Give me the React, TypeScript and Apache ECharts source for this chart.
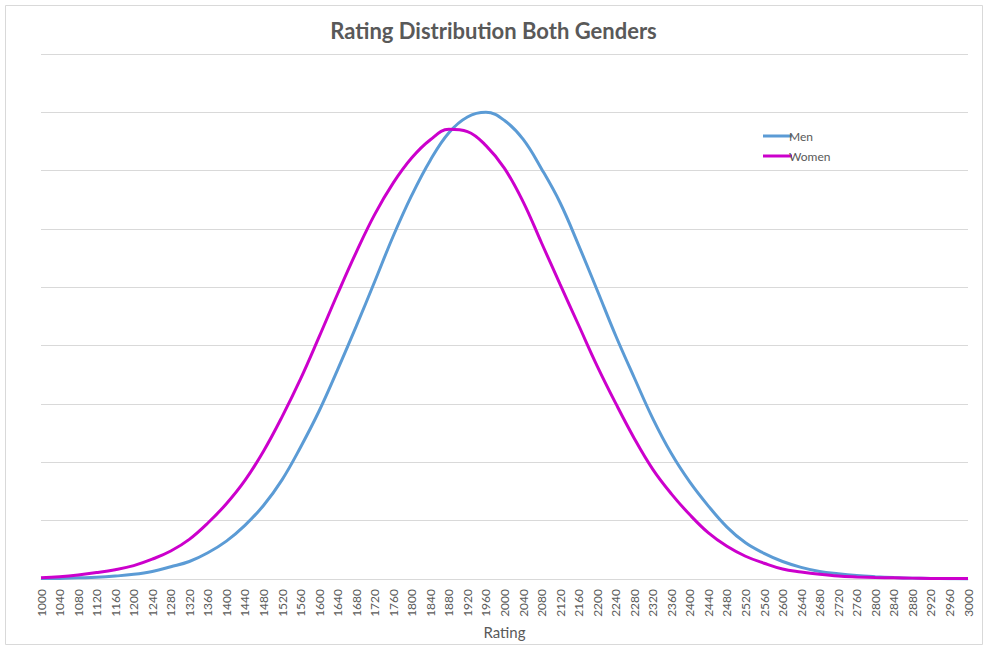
import { useEffect, useRef } from 'react';
import * as echarts from 'echarts';

const ratings = [
  '1000', '1040', '1080', '1120', '1160', '1200', '1240', '1280', '1320', '1360',
  '1400', '1440', '1480', '1520', '1560', '1600', '1640', '1680', '1720', '1760',
  '1800', '1840', '1880', '1920', '1960', '2000', '2040', '2080', '2120', '2160',
  '2200', '2240', '2280', '2320', '2360', '2400', '2440', '2480', '2520', '2560',
  '2600', '2640', '2680', '2720', '2760', '2800', '2840', '2880', '2920', '2960',
  '3000',
];

// in gridline units (the y axis has no labels)
const men = [
  0.01, 0.01, 0.02, 0.03, 0.05, 0.08, 0.13, 0.21, 0.3, 0.45,
  0.65, 0.92, 1.26, 1.7, 2.26, 2.88, 3.59, 4.33, 5.1, 5.88,
  6.58, 7.18, 7.65, 7.92, 8.0, 7.86, 7.54, 7.03, 6.45, 5.72,
  4.95, 4.17, 3.45, 2.75, 2.15, 1.66, 1.25, 0.89, 0.62, 0.44,
  0.3, 0.2, 0.13, 0.09, 0.06, 0.04, 0.025, 0.015, 0.01, 0.005,
  0.0,
];

const women = [
  0.02, 0.04, 0.07, 0.11, 0.16, 0.23, 0.34, 0.48, 0.68, 0.96,
  1.29, 1.69, 2.19, 2.78, 3.43, 4.15, 4.89, 5.6, 6.25, 6.79,
  7.22, 7.53, 7.71, 7.67, 7.43, 7.04, 6.47, 5.76, 5.05, 4.35,
  3.65, 3.01, 2.41, 1.88, 1.46, 1.1, 0.79, 0.56, 0.39, 0.27,
  0.17, 0.12, 0.08, 0.05, 0.035, 0.025, 0.02, 0.015, 0.01, 0.01,
  0.01,
];

const textColor = '#595959';
const gridColor = '#d9d9d9';

export default function App() {
  const chartRef = useRef<HTMLDivElement>(null);

  useEffect(() => {
    if (!chartRef.current) return;
    const chart = echarts.init(chartRef.current, undefined, { renderer: 'svg' });

    chart.setOption({
      animation: false,
      backgroundColor: '#ffffff',
      title: {
        text: 'Rating Distribution Both Genders',
        left: 'center',
        top: 14,
        textStyle: { color: textColor, fontSize: 22, fontWeight: 'bold', fontFamily: 'Lato' },
      },
      legend: {
        data: ['Men', 'Women'],
        orient: 'vertical',
        left: 758,
        top: 125,
        icon: 'rect',
        itemWidth: 29,
        itemHeight: 3,
        itemGap: 8,
        textStyle: { color: textColor, fontSize: 12, fontFamily: 'Lato', padding: [0, 0, 0, -8] },
      },
      graphic: [
        {
          type: 'rect',
          shape: { x: 5.5, y: 5.5, width: 977, height: 639 },
          style: { fill: 'none', stroke: gridColor, lineWidth: 1 },
          silent: true,
        },
      ],
      grid: { left: 41, right: 19, top: 54, bottom: 69 },
      xAxis: {
        type: 'category',
        data: ratings,
        boundaryGap: false,
        name: 'Rating',
        nameLocation: 'middle',
        nameGap: 45,
        nameTextStyle: { color: textColor, fontSize: 15, fontFamily: 'Lato' },
        axisLine: { lineStyle: { color: gridColor, width: 1 } },
        axisTick: { show: false },
        axisLabel: {
          interval: 0,
          rotate: 90,
          margin: 10,
          color: textColor,
          fontSize: 12,
          fontFamily: 'Lato',
        },
        splitLine: { show: false },
      },
      yAxis: {
        type: 'value',
        min: 0,
        max: 9,
        interval: 1,
        axisLine: { show: false },
        axisTick: { show: false },
        axisLabel: { show: false },
        splitLine: { lineStyle: { color: gridColor, width: 1 } },
      },
      series: [
        {
          name: 'Men',
          type: 'line',
          data: men,
          smooth: 0.4,
          symbol: 'none',
          lineStyle: { color: '#5b9bd5', width: 3 },
          itemStyle: { color: '#5b9bd5' },
        },
        {
          name: 'Women',
          type: 'line',
          data: women,
          smooth: 0.4,
          symbol: 'none',
          lineStyle: { color: '#cc00cc', width: 3 },
          itemStyle: { color: '#cc00cc' },
        },
      ],
    });

    return () => chart.dispose();
  }, []);

  return (
    <div
      ref={chartRef}
      style={{ position: 'absolute', left: 0, top: 0, width: 987, height: 648 }}
    />
  );
}
